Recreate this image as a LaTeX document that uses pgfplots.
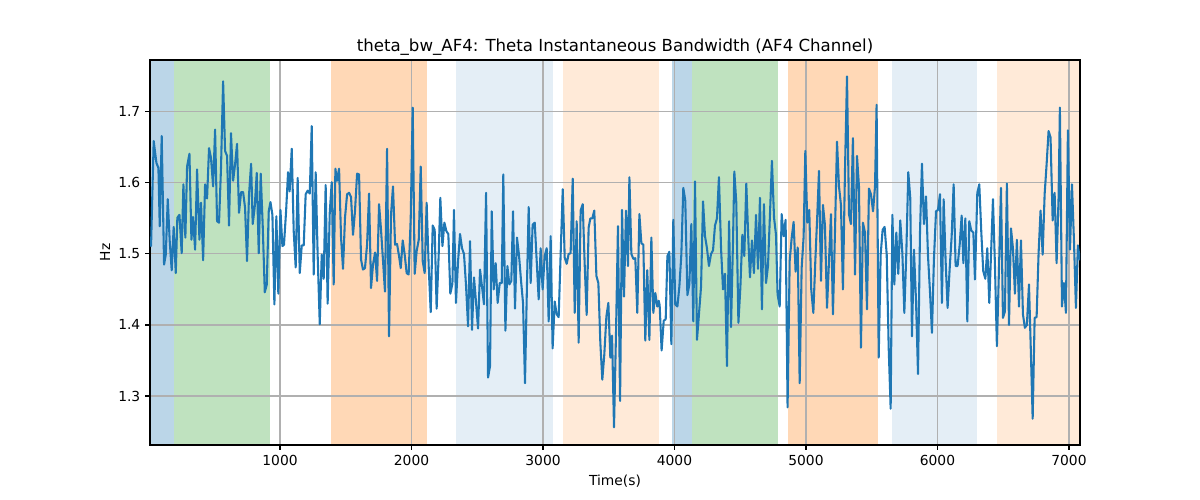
\documentclass[border=0pt]{standalone}
\usepackage{pgfplots}
\pgfplotsset{compat=1.18}
\usepackage{fontspec}
\setmainfont{DejaVu Sans}
\definecolor{tabblue}{HTML}{1F77B4}
\definecolor{taborange}{HTML}{FF7F0E}
\definecolor{tabgreen}{HTML}{2CA02C}
\pgfplotsset{common/.style={
  at={(1.5in,0.55in)}, anchor=south west,
  width=9.3in, height=3.85in, scale only axis,
  xmin=11, xmax=7084, ymin=1.231, ymax=1.773,
}}
\begin{document}
\begin{tikzpicture}
\path[use as bounding box] (0,0) rectangle (12in,5in);
\begin{axis}[common, hide axis]
\addplot[fill=tabblue, fill opacity=0.3, draw=none] coordinates {(11,1.2) (194,1.2) (194,1.8) (11,1.8)};
\addplot[fill=tabgreen, fill opacity=0.3, draw=none] coordinates {(194,1.2) (924,1.2) (924,1.8) (194,1.8)};
\addplot[fill=taborange, fill opacity=0.3, draw=none] coordinates {(1388,1.2) (2118,1.2) (2118,1.8) (1388,1.8)};
\addplot[fill=tabblue, fill opacity=0.12, draw=none] coordinates {(2338,1.2) (3076,1.2) (3076,1.8) (2338,1.8)};
\addplot[fill=taborange, fill opacity=0.16, draw=none] coordinates {(3152,1.2) (3882,1.2) (3882,1.8) (3152,1.8)};
\addplot[fill=tabblue, fill opacity=0.3, draw=none] coordinates {(3981,1.2) (4133,1.2) (4133,1.8) (3981,1.8)};
\addplot[fill=tabgreen, fill opacity=0.3, draw=none] coordinates {(4133,1.2) (4787,1.2) (4787,1.8) (4133,1.8)};
\addplot[fill=taborange, fill opacity=0.3, draw=none] coordinates {(4863,1.2) (5548,1.2) (5548,1.8) (4863,1.8)};
\addplot[fill=tabblue, fill opacity=0.12, draw=none] coordinates {(5654,1.2) (6300,1.2) (6300,1.8) (5654,1.8)};
\addplot[fill=taborange, fill opacity=0.16, draw=none] coordinates {(6452,1.2) (7084,1.2) (7084,1.8) (6452,1.8)};
\end{axis}
\begin{axis}[
  common,
  xtick={1000,2000,3000,4000,5000,6000,7000},
  ytick={1.3,1.4,1.5,1.6,1.7},
  /pgf/number format/assume math mode=true,
  xticklabel style={/pgf/number format/1000 sep={}},
  yticklabel style={/pgf/number format/.cd,fixed,precision=1,fixed zerofill},
  tick label style={font=\fontsize{10}{12}\selectfont},
  tick align=outside, xtick pos=bottom, ytick pos=left,
  major tick length=3.5pt,
  every tick/.style={black, line width=0.8pt},
  grid=major,
  major grid style={color=black!31, line width=0.8pt},
  axis line style={line width=0.8pt},
  title={theta\_bw\_AF4: Theta Instantaneous Bandwidth (AF4 Channel)},
  title style={font=\fontsize{12}{14}\selectfont, yshift=-6.5pt},
  xlabel={Time(s)}, ylabel={Hz},
  label style={font=\fontsize{10}{12}\selectfont},
  xlabel style={yshift=0pt},
  ylabel style={yshift=-1pt},
]
\addplot[color=tabblue, line width=1.5pt, line join=round, no markers] table {
11 1.52
19 1.511
39 1.659
60 1.628
75 1.621
85 1.539
100 1.666
118 1.485
131 1.499
146 1.577
161 1.518
176 1.477
191 1.538
207 1.473
219 1.551
235 1.555
252 1.501
265 1.598
280 1.523
293 1.623
311 1.641
326 1.520
338 1.552
354 1.506
369 1.619
387 1.520
399 1.572
415 1.491
430 1.598
445 1.578
460 1.649
475 1.635
491 1.595
506 1.675
521 1.546
536 1.544
551 1.621
567 1.743
582 1.645
597 1.638
612 1.540
627 1.670
643 1.603
658 1.626
673 1.655
688 1.558
704 1.587
719 1.587
734 1.565
749 1.490
764 1.583
780 1.627
792 1.542
807 1.565
823 1.614
838 1.501
853 1.613
868 1.541
884 1.446
899 1.457
914 1.560
927 1.573
942 1.555
957 1.429
972 1.553
987 1.444
1003 1.562
1018 1.511
1030 1.513
1046 1.560
1061 1.615
1073 1.588
1089 1.648
1104 1.532
1119 1.481
1134 1.607
1150 1.473
1165 1.512
1180 1.512
1195 1.584
1210 1.589
1226 1.585
1241 1.680
1256 1.471
1271 1.615
1286 1.499
1302 1.401
1317 1.499
1332 1.465
1347 1.597
1362 1.430
1378 1.558
1393 1.601
1408 1.457
1421 1.620
1433 1.603
1449 1.620
1464 1.523
1479 1.479
1494 1.551
1510 1.584
1525 1.586
1540 1.580
1555 1.527
1570 1.560
1586 1.613
1601 1.612
1616 1.492
1631 1.478
1646 1.480
1662 1.513
1677 1.585
1692 1.452
1707 1.485
1723 1.502
1738 1.462
1753 1.570
1768 1.534
1783 1.491
1798 1.447
1814 1.648
1829 1.384
1844 1.555
1859 1.595
1875 1.513
1890 1.514
1905 1.497
1918 1.480
1933 1.519
1948 1.499
1963 1.473
1978 1.471
1994 1.551
2009 1.706
2024 1.472
2039 1.504
2055 1.520
2070 1.623
2085 1.490
2100 1.473
2115 1.572
2131 1.480
2146 1.418
2161 1.540
2176 1.534
2191 1.423
2207 1.501
2219 1.579
2235 1.511
2250 1.544
2265 1.532
2280 1.528
2295 1.444
2311 1.458
2323 1.562
2338 1.431
2354 1.490
2369 1.528
2384 1.508
2399 1.500
2414 1.457
2430 1.398
2445 1.518
2460 1.393
2475 1.467
2491 1.431
2506 1.395
2521 1.478
2536 1.454
2551 1.429
2567 1.586
2582 1.326
2597 1.342
2610 1.560
2625 1.450
2640 1.487
2655 1.431
2671 1.459
2686 1.459
2698 1.612
2714 1.392
2729 1.483
2744 1.457
2759 1.462
2772 1.560
2787 1.423
2802 1.523
2817 1.499
2833 1.462
2848 1.431
2863 1.318
2878 1.457
2891 1.566
2906 1.459
2921 1.541
2937 1.544
2952 1.490
2967 1.436
2982 1.508
2997 1.450
3013 1.497
3028 1.508
3043 1.405
3058 1.525
3073 1.367
3089 1.433
3104 1.415
3119 1.411
3134 1.499
3150 1.591
3165 1.495
3180 1.486
3195 1.500
3210 1.501
3226 1.606
3241 1.417
3256 1.546
3271 1.375
3286 1.561
3302 1.570
3317 1.485
3332 1.414
3347 1.537
3360 1.550
3375 1.550
3390 1.561
3406 1.469
3421 1.459
3436 1.375
3451 1.323
3466 1.358
3482 1.412
3497 1.431
3512 1.354
3525 1.385
3540 1.256
3555 1.387
3570 1.539
3586 1.293
3601 1.562
3616 1.440
3631 1.561
3646 1.483
3657 1.608
3672 1.500
3687 1.493
3702 1.494
3717 1.417
3733 1.556
3748 1.515
3763 1.513
3778 1.378
3793 1.477
3809 1.379
3824 1.523
3839 1.417
3854 1.445
3869 1.426
3880 1.434
3887 1.428
3902 1.364
3918 1.406
3933 1.408
3946 1.497
3961 1.503
3976 1.373
3991 1.548
4006 1.429
4022 1.426
4037 1.454
4052 1.499
4067 1.593
4082 1.575
4098 1.442
4113 1.457
4128 1.542
4143 1.405
4156 1.602
4171 1.379
4186 1.415
4202 1.454
4217 1.574
4232 1.525
4247 1.508
4262 1.483
4278 1.500
4293 1.505
4308 1.540
4323 1.550
4338 1.608
4354 1.508
4369 1.450
4384 1.472
4399 1.342
4415 1.546
4430 1.397
4445 1.518
4455 1.616
4470 1.572
4486 1.403
4501 1.453
4516 1.527
4531 1.497
4546 1.599
4562 1.518
4574 1.467
4589 1.519
4604 1.473
4620 1.555
4635 1.479
4650 1.579
4665 1.422
4680 1.570
4696 1.459
4711 1.483
4726 1.555
4741 1.631
4757 1.551
4772 1.527
4784 1.443
4800 1.426
4815 1.556
4830 1.525
4845 1.548
4860 1.284
4876 1.490
4891 1.522
4906 1.545
4921 1.475
4937 1.509
4952 1.318
4967 1.480
4982 1.524
4995 1.645
5010 1.544
5025 1.562
5040 1.450
5056 1.417
5071 1.490
5086 1.555
5099 1.617
5114 1.462
5129 1.569
5144 1.541
5160 1.424
5175 1.490
5190 1.556
5205 1.415
5220 1.527
5236 1.658
5251 1.595
5266 1.569
5281 1.450
5297 1.621
5312 1.750
5327 1.556
5342 1.542
5357 1.663
5373 1.471
5388 1.638
5403 1.595
5418 1.368
5433 1.544
5449 1.530
5464 1.422
5479 1.592
5494 1.584
5510 1.560
5525 1.595
5537 1.710
5553 1.354
5568 1.499
5583 1.534
5598 1.538
5614 1.499
5629 1.368
5644 1.282
5657 1.555
5672 1.457
5687 1.530
5702 1.472
5717 1.547
5733 1.501
5748 1.417
5763 1.501
5778 1.615
5793 1.579
5806 1.384
5821 1.506
5837 1.433
5852 1.331
5867 1.530
5882 1.627
5897 1.542
5913 1.581
5928 1.497
5943 1.447
5958 1.389
5973 1.492
5989 1.560
6004 1.562
6019 1.584
6034 1.431
6047 1.577
6062 1.490
6077 1.424
6093 1.480
6108 1.525
6123 1.598
6138 1.483
6153 1.483
6169 1.513
6184 1.554
6197 1.487
6212 1.550
6227 1.405
6242 1.546
6257 1.533
6273 1.530
6285 1.464
6303 1.586
6318 1.598
6333 1.532
6348 1.476
6364 1.465
6379 1.508
6394 1.431
6409 1.508
6422 1.577
6437 1.485
6452 1.370
6468 1.480
6483 1.593
6498 1.410
6513 1.419
6528 1.599
6544 1.400
6559 1.536
6574 1.508
6589 1.444
6604 1.520
6620 1.426
6635 1.519
6650 1.415
6665 1.396
6680 1.400
6696 1.457
6711 1.358
6724 1.268
6739 1.410
6754 1.411
6769 1.501
6784 1.561
6800 1.499
6815 1.584
6830 1.626
6845 1.673
6860 1.664
6876 1.547
6891 1.586
6906 1.487
6921 1.579
6931 1.706
6947 1.426
6962 1.459
6977 1.417
6992 1.674
7008 1.506
7023 1.598
7038 1.519
7053 1.424
7068 1.512
7084 1.491
};
\end{axis}
\end{tikzpicture}
\end{document}
